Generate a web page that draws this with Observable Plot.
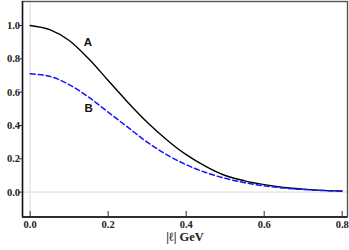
<!DOCTYPE html>
<html>
<head>
<meta charset="utf-8">
<script src="https://cdn.jsdelivr.net/npm/d3@7"></script>
<script src="https://cdn.jsdelivr.net/npm/@observablehq/plot@0.6"></script>
<style>
  html, body { margin: 0; padding: 0; background: #fff; }
  #chart svg { display: block; }
</style>
</head>
<body>
<div id="chart"></div>
<script>
const xs = [0.00, 0.05, 0.10, 0.15, 0.20, 0.25, 0.30, 0.35, 0.40, 0.45, 0.50, 0.55, 0.60, 0.65, 0.70, 0.75, 0.80];
const curveA = [1.00, 0.975, 0.91, 0.80, 0.67, 0.54, 0.42, 0.315, 0.225, 0.155, 0.10, 0.068, 0.045, 0.028, 0.018, 0.011, 0.007];
const curveB = [0.71, 0.695, 0.645, 0.57, 0.48, 0.39, 0.30, 0.225, 0.165, 0.118, 0.083, 0.057, 0.038, 0.025, 0.016, 0.010, 0.006];
const xTicks = [0.0, 0.2, 0.4, 0.6, 0.8];
const yTicks = [0.0, 0.2, 0.4, 0.6, 0.8, 1.0];
const labelNames = ["A", "B"];
const labelX = [0.148, 0.150];
const labelY = [0.898, 0.502];
const xLabel = "|ℓ| GeV";

const dataA = xs.map((x, i) => ({x, y: curveA[i]}));
const dataB = xs.map((x, i) => ({x, y: curveB[i]}));
const labels = labelNames.map((t, i) => ({t, x: labelX[i], y: labelY[i]}));

const xDomain = [-0.0197, 0.8136];
const yDomain = [-0.149, 1.144];
const serif = "'Liberation Serif', 'Times New Roman', serif";
const fmt = d3.format(".1f");

const plot = Plot.plot({
  width: 349,
  height: 250,
  marginLeft: 22,
  marginRight: 2,
  marginTop: 1,
  marginBottom: 33.5,
  style: {fontFamily: serif, background: "#fff"},
  x: {domain: xDomain, axis: null},
  y: {domain: yDomain, axis: null},
  marks: [
    Plot.ruleX([0], {stroke: "#e8e8e8", strokeWidth: 1.6}),
    Plot.ruleY([0], {stroke: "#e8e8e8", strokeWidth: 1.6}),
    Plot.frame({stroke: "#555", strokeWidth: 1.4}),
    Plot.ruleX([xDomain[0]], {stroke: "#111", strokeWidth: 1.4}),
    Plot.ruleY([yDomain[0]], {stroke: "#111", strokeWidth: 1.4}),
    Plot.ruleX(xTicks, {stroke: "#333", strokeWidth: 1, insetTop: 210}),
    Plot.axisY(yTicks, {tickSize: 3, tickFormat: () => "", stroke: "#333", label: null}),
    Plot.text(xTicks, {x: d => d, text: d => fmt(d), frameAnchor: "bottom", lineAnchor: "top", dy: 3.5,
      fontFamily: serif, fontWeight: "bold", fontSize: 10.5, fill: "#222"}),
    Plot.text(yTicks, {y: d => d, text: d => fmt(d), frameAnchor: "left", textAnchor: "end", dx: -2.5,
      fontFamily: serif, fontWeight: "bold", fontSize: 10.5, fill: "#222"}),
    Plot.text([xLabel], {frameAnchor: "bottom", dy: 15, fontFamily: serif, fontWeight: "bold",
      fontSize: 12.5, fill: "#222", lineAnchor: "top"}),
    Plot.line(dataA, {x: "x", y: "y", stroke: "#000", strokeWidth: 1.4, curve: "monotone-x"}),
    Plot.line(dataB, {x: "x", y: "y", stroke: "#1414ff", strokeWidth: 1.5, strokeDasharray: "5,3", curve: "monotone-x"}),
    Plot.text(labels, {x: "x", y: "y", text: "t", fontFamily: "'Liberation Sans', Arial, sans-serif",
      fontWeight: "bold", fontSize: 11.5, fill: "#111"})
  ]
});
document.getElementById("chart").appendChild(plot);
</script>
</body>
</html>
